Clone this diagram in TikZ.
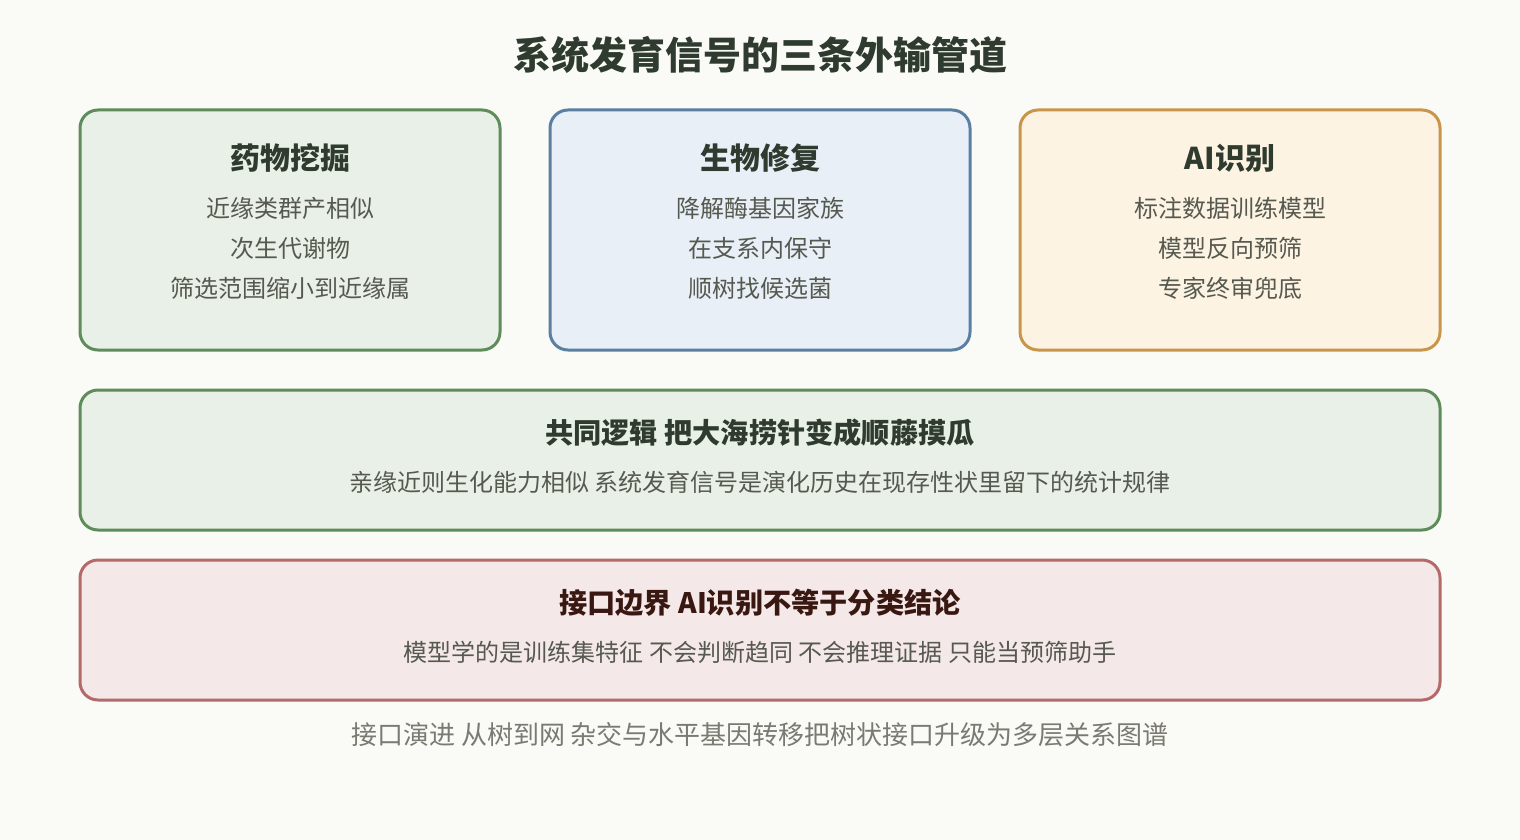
\documentclass[tikz,border=0pt]{standalone}
\usepackage{fontspec}
\setmainfont{Noto Sans CJK SC}
\usetikzlibrary{positioning}
\definecolor{bgc}{HTML}{FAFAF6}
\definecolor{grnline}{HTML}{5E8C5A}
\definecolor{grnfill}{HTML}{E9F0E7}
\definecolor{bluline}{HTML}{5B7FA3}
\definecolor{blufill}{HTML}{E8EFF7}
\definecolor{orgline}{HTML}{C9954A}
\definecolor{orgfill}{HTML}{FDF3E3}
\definecolor{redline}{HTML}{B56A6A}
\definecolor{redfill}{HTML}{F4E8E8}
\definecolor{headc}{HTML}{2E3B2E}
\definecolor{bodyc}{HTML}{56594F}
\definecolor{footc}{HTML}{7A7A72}

\begin{document}
\begin{tikzpicture}[x=0.5pt,y=-0.5pt]
  \tikzstyle{card}=[rectangle,rounded corners=9pt,line width=1.5pt,minimum width=210pt,minimum height=120pt]
  \tikzstyle{band}=[rectangle,rounded corners=9pt,line width=1.5pt,minimum width=680pt,minimum height=70pt]
  \tikzstyle{head}=[font=\bfseries\fontsize{15pt}{18pt}\selectfont,text=headc,inner sep=0pt]
  \tikzstyle{line}=[font=\fontsize{12pt}{14pt}\selectfont,text=bodyc,inner sep=0pt]
  \tikzstyle{bandhead}=[font=\bfseries\fontsize{14.1pt}{17pt}\selectfont,text=headc,inner sep=0pt]
  \fill[bgc] (0,0) rectangle (1520,840);
  \useasboundingbox (0,0) rectangle (1520,840);

  \node[font=\bfseries\fontsize{19pt}{22pt}\selectfont,text=headc,inner sep=0pt] (title) at (760,55) {系统发育信号的三条外输管道};

  % three pipelines
  \node[card,draw=grnline,fill=grnfill] (drug) at (290,230) {};
  \node[card,draw=bluline,fill=blufill] (bio) at (760,230) {};
  \node[card,draw=orgline,fill=orgfill] (ai) at (1230,230) {};

  \node[head] (drugh) at (290,158) {药物挖掘};
  \node[line] (drug1) at (290,208) {近缘类群产相似};
  \node[line] (drug2) at (290,248) {次生代谢物};
  \node[line] (drug3) at (290,288) {筛选范围缩小到近缘属};

  \node[head] (bioh) at (760,158) {生物修复};
  \node[line] (bio1) at (760,208) {降解酶基因家族};
  \node[line] (bio2) at (760,248) {在支系内保守};
  \node[line] (bio3) at (760,288) {顺树找候选菌};

  \node[head] (aih) at (1230,158) {AI识别};
  \node[line] (ai1) at (1230,208) {标注数据训练模型};
  \node[line] (ai2) at (1230,248) {模型反向预筛};
  \node[line] (ai3) at (1230,288) {专家终审兜底};

  % shared logic and boundary
  \node[band,draw=grnline,fill=grnfill] (logic) at (760,460) {};
  \node[bandhead] (logich) at (760,433) {共同逻辑 把大海捞针变成顺藤摸瓜};
  \node[line] (logic1) at (760,482) {亲缘近则生化能力相似 系统发育信号是演化历史在现存性状里留下的统计规律};

  \node[band,draw=redline,fill=redfill] (bound) at (760,630) {};
  \node[bandhead,text=black!75!red!60!headc] (boundh) at (760,603) {接口边界 AI识别不等于分类结论};
  \node[line] (bound1) at (760,652) {模型学的是训练集特征 不会判断趋同 不会推理证据 只能当预筛助手};

  \node[font=\fontsize{13pt}{15pt}\selectfont,text=footc,inner sep=0pt] (foot) at (760,735) {接口演进 从树到网 杂交与水平基因转移把树状接口升级为多层关系图谱};
\end{tikzpicture}
\end{document}
